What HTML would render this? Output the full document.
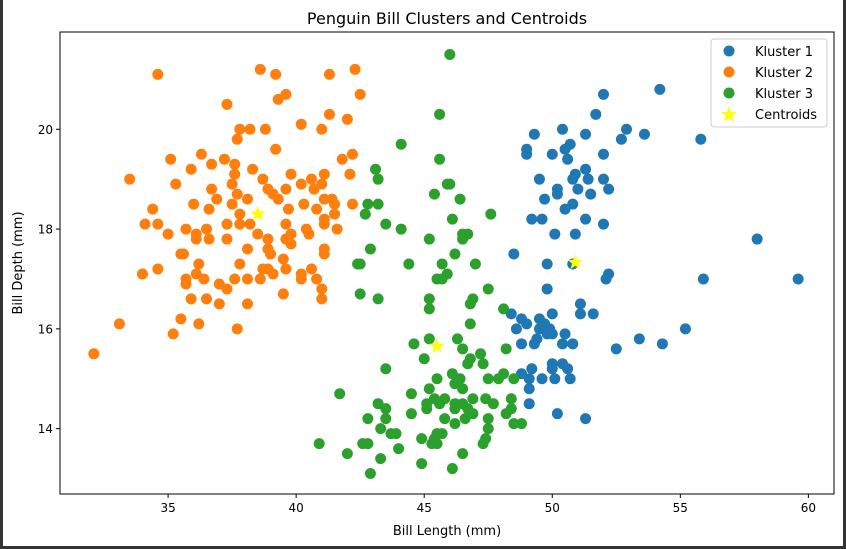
<!DOCTYPE html>
<html><head><meta charset="utf-8"><style>
html,body{margin:0;padding:0;background:#fff;}
#wrap{position:relative;width:846px;height:549px;overflow:hidden;background:#fff;}
#bl{position:absolute;left:0;top:0;width:3px;height:549px;background:#333;}
#br{position:absolute;right:0;top:0;width:3px;height:549px;background:#333;}
#bb{position:absolute;left:0;bottom:0;width:846px;height:3px;background:#333;}
svg text{font-family:"DejaVu Sans","Liberation Sans",sans-serif;fill:#000;}
</style></head><body>
<div id="wrap">
<div id="bl"></div>
<div id="br"></div>
<div id="bb"></div>
<svg id="chart" width="846" height="549">
<text x="447" y="24" font-size="16" text-anchor="middle">Penguin Bill Clusters and Centroids</text>
<text x="447" y="535" font-size="13" text-anchor="middle">Bill Length (mm)</text>
<text x="22" y="263" font-size="13" text-anchor="middle" transform="rotate(-90 22 263)">Bill Depth (mm)</text>
<g id="marks"></g>
<rect x="60" y="32" width="774" height="462" fill="none" stroke="#000" stroke-width="1"/>
<g id="axes"></g>
<g>
<rect x="711" y="39" width="116" height="88" rx="3" fill="#fff" fill-opacity="0.8" stroke="#ccc"/>
<circle cx="729" cy="51" r="5.5" fill="#1f77b4"/>
<text x="755" y="56" font-size="13">Kluster 1</text>
<circle cx="729" cy="72" r="5.5" fill="#ff7f0e"/>
<text x="755" y="77" font-size="13">Kluster 2</text>
<circle cx="729" cy="93" r="5.5" fill="#2ca02c"/>
<text x="755" y="98" font-size="13">Kluster 3</text>
<polygon points="729,106 731,112 737,112 732,116 734,122 729,118 724,122 726,116 721,112 727,112" fill="#ffff00"/>
<text x="755" y="119" font-size="13">Centroids</text>
</g>
</svg>
</div>
<script>
const xTicks = [35, 40, 45, 50, 55, 60];
const yTicks = [14, 16, 18, 20];
const k1x = [54.2,52.0,51.7,49.3,50.4,51.3,52.9,52.7,53.6,55.8,49.0,49.0,50.0,50.5,50.7,50.6,52.0,51.3,50.9,50.8,51.4,52.0,49.5,50.2,50.2,51.0,52.2,51.5,49.7,50.8,50.5,49.2,49.6,51.3,52.0,50.1,50.9,58.0,48.5,49.8,50.8,52.2,52.1,55.9,59.6,49.8,51.1,51.1,51.6,50.0,48.4,48.8,49.0,48.6,49.5,49.5,49.7,49.9,49.8,50.0,50.5,55.2,53.4,54.3,52.5,49.4,49.3,48.8,50.4,50.8,49.2,50.0,50.0,50.4,50.6,48.8,49.1,49.6,50.1,50.7,49.1,49.1,50.2,51.3];
const k1y = [20.8,20.7,20.3,19.9,20.0,19.9,20.0,19.8,19.9,19.8,19.6,19.5,19.5,19.6,19.7,19.4,19.5,19.2,19.1,19.0,19.0,19.0,19.0,18.8,18.7,18.8,18.8,18.7,18.6,18.5,18.4,18.2,18.2,18.2,18.1,17.9,17.9,17.8,17.5,17.3,17.3,17.1,17.0,17.0,17.0,16.8,16.5,16.3,16.3,16.3,16.3,16.2,16.1,16.0,16.2,16.0,16.1,16.0,15.9,15.9,15.9,16.0,15.8,15.7,15.6,15.8,15.7,15.7,15.7,15.7,15.2,15.3,15.2,15.3,15.2,15.1,15.0,15.0,15.0,15.0,14.8,14.5,14.3,14.2];
const k2x = [34.6,38.6,39.2,41.3,42.3,42.5,37.3,39.6,39.3,40.2,41.0,41.3,42.0,37.8,38.2,38.8,37.7,39.2,35.1,36.3,36.7,37.2,37.6,35.9,38.3,33.5,35.3,37.6,37.5,38.7,39.8,40.2,40.6,41.1,41.8,42.2,42.1,36.7,38.9,39.6,40.7,41.0,37.7,38.1,39.1,39.3,36.9,36.6,36.0,37.5,34.4,39.7,40.3,40.8,41.1,41.4,41.5,42.2,37.8,41.5,34.1,34.6,37.3,37.8,38.2,39.6,41.1,41.1,35.0,35.7,36.1,36.1,36.5,36.6,37.3,38.5,38.9,39.6,39.8,39.8,40.4,40.5,41.6,38.1,38.9,39.0,41.1,41.1,35.5,35.6,39.5,39.6,34.0,34.6,36.2,36.1,35.7,35.7,36.4,37.8,37.6,38.1,38.7,38.9,39.1,38.6,40.2,40.2,40.6,40.8,41.0,41.0,37.0,37.3,39.5,35.9,36.5,37.0,38.1,33.1,35.5,36.2,35.2,37.7,32.1];
const k2y = [21.1,21.2,21.1,21.1,21.2,20.7,20.5,20.7,20.6,20.1,20.0,20.3,20.2,20.0,20.0,20.0,19.8,19.6,19.4,19.5,19.3,19.4,19.3,19.2,19.2,19.0,18.9,19.1,18.9,19.0,19.1,18.9,19.0,19.1,19.4,19.5,19.1,18.8,18.8,18.8,18.8,18.9,18.7,18.6,18.7,18.6,18.6,18.4,18.5,18.5,18.4,18.4,18.5,18.4,18.6,18.6,18.5,18.5,18.3,18.3,18.1,18.1,18.1,18.1,18.1,18.1,18.2,18.1,17.9,18.0,17.9,17.8,18.0,17.8,17.8,17.9,17.8,17.8,17.9,17.7,18.0,17.9,18.0,17.6,17.6,17.5,17.6,17.5,17.5,17.5,17.4,17.2,17.1,17.2,17.3,17.1,17.0,16.9,17.0,17.3,17.0,17.0,17.2,17.2,17.1,17.0,17.1,17.0,17.2,17.0,16.8,16.6,16.9,16.8,16.7,16.6,16.6,16.5,16.5,16.1,16.2,16.1,15.9,16.0,15.5];
const k3x = [46.0,45.6,44.1,45.6,43.1,43.2,45.9,46.0,45.4,46.4,47.6,42.8,43.2,42.7,43.5,44.1,46.1,45.2,46.5,46.7,46.5,42.9,46.2,42.4,42.5,44.4,45.7,47.0,45.9,45.5,45.7,42.5,43.2,45.2,45.2,46.9,46.8,47.5,48.1,46.8,45.2,44.6,46.3,46.5,45.0,47.2,46.8,47.3,46.7,48.2,43.5,41.7,45.5,46.1,46.4,46.2,46.5,47.5,47.9,48.1,48.5,45.2,44.5,45.4,45.8,45.1,45.1,45.6,46.2,46.5,46.9,47.4,47.7,48.4,46.2,46.7,46.9,48.4,48.2,43.2,43.5,42.8,43.5,44.5,45.8,46.6,47.5,46.2,48.5,48.8,47.5,43.3,43.7,43.9,44.9,45.4,45.5,45.7,45.3,45.5,47.4,47.3,40.9,42.6,42.8,44.0,42.0,43.3,46.5,44.9,46.1,42.9];
const k3y = [21.5,20.3,19.7,19.4,19.2,19.0,18.9,18.9,18.7,18.6,18.3,18.5,18.5,18.3,18.1,18.0,18.2,17.8,17.9,17.9,17.8,17.6,17.5,17.3,17.3,17.3,17.3,17.3,17.1,17.0,17.0,16.7,16.6,16.6,16.4,16.6,16.5,16.8,16.4,16.1,15.8,15.7,15.8,15.6,15.4,15.5,15.4,15.3,15.3,15.6,15.2,14.7,15.0,15.1,15.0,14.9,14.8,15.0,15.0,15.1,15.0,14.8,14.7,14.6,14.6,14.5,14.4,14.5,14.5,14.5,14.6,14.6,14.5,14.6,14.4,14.4,14.3,14.4,14.3,14.5,14.4,14.2,14.2,14.3,14.2,14.2,14.2,14.1,14.1,14.1,14.0,14.0,13.9,13.9,13.8,13.8,13.9,13.9,13.7,13.7,13.8,13.7,13.7,13.7,13.7,13.6,13.5,13.4,13.5,13.3,13.2,13.1];
const centX = [50.9, 38.5, 45.5];
const centY = [17.33, 18.3, 15.65];

const X0 = 30.78, X1 = 61.0, Y0 = 12.69, Y1 = 21.95;
const L = 60, R = 834, T = 32, B = 494;
function sx(v){ return L + (v - X0) / (X1 - X0) * (R - L); }
function sy(v){ return B - (v - Y0) / (Y1 - Y0) * (B - T); }
const NS = 'http://www.w3.org/2000/svg';
const marks = document.getElementById('marks');
const axes = document.getElementById('axes');

function drawSeries(xs, ys, color, name){
  for (let i = 0; i < xs.length; i++){
    const c = document.createElementNS(NS, 'circle');
    c.setAttribute('cx', sx(xs[i]));
    c.setAttribute('cy', sy(ys[i]));
    c.setAttribute('r', 5.5);
    c.setAttribute('fill', color);
    
    
    marks.appendChild(c);
  }
}
drawSeries(k1x, k1y, '#1f77b4', 'kluster-1-point');
drawSeries(k2x, k2y, '#ff7f0e', 'kluster-2-point');
drawSeries(k3x, k3y, '#2ca02c', 'kluster-3-point');

function star(cx, cy, ro, ri){
  let p = [];
  for (let k = 0; k < 10; k++){
    const a = -Math.PI/2 + k*Math.PI/5;
    const r = k % 2 ? ri : ro;
    p.push((cx + r*Math.cos(a)).toFixed(1) + ',' + (cy + r*Math.sin(a)).toFixed(1));
  }
  return p.join(' ');
}
for (let i = 0; i < centX.length; i++){
  const s = document.createElementNS(NS, 'polygon');
  s.setAttribute('points', star(sx(centX[i]), sy(centY[i]), 8, 3.3));
  s.setAttribute('fill', '#ffff00');
  
  
  marks.appendChild(s);
}

for (const t of xTicks){
  const x = sx(t);
  const ln = document.createElementNS(NS, 'line');
  ln.setAttribute('x1', x); ln.setAttribute('x2', x);
  ln.setAttribute('y1', B); ln.setAttribute('y2', B + 4);
  ln.setAttribute('stroke', '#000');
  
  
  axes.appendChild(ln);
  const tx = document.createElementNS(NS, 'text');
  tx.setAttribute('x', x); tx.setAttribute('y', B + 18);
  tx.setAttribute('font-size', '12');
  tx.setAttribute('text-anchor', 'middle');
  tx.textContent = t;
  
  
  axes.appendChild(tx);
}
for (const t of yTicks){
  const y = sy(t);
  const ln = document.createElementNS(NS, 'line');
  ln.setAttribute('x1', L - 4); ln.setAttribute('x2', L);
  ln.setAttribute('y1', y); ln.setAttribute('y2', y);
  ln.setAttribute('stroke', '#000');
  
  
  axes.appendChild(ln);
  const tx = document.createElementNS(NS, 'text');
  tx.setAttribute('x', L - 7); tx.setAttribute('y', y + 4.5);
  tx.setAttribute('font-size', '12');
  tx.setAttribute('text-anchor', 'end');
  tx.textContent = t;
  
  
  axes.appendChild(tx);
}
</script>
</body></html>
